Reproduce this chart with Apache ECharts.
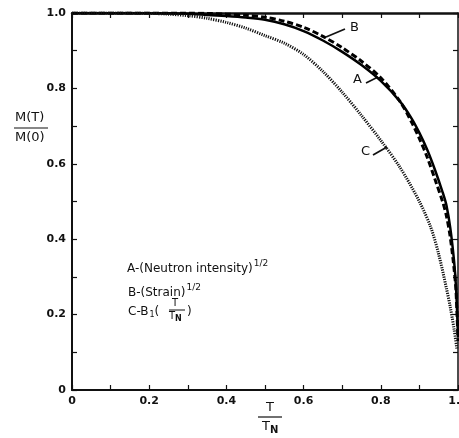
<!DOCTYPE html>
<html>
<head>
<meta charset="utf-8">
<style>
  html, body { margin: 0; padding: 0; background: #fff; }
  #chart { width: 459px; height: 438px; }
</style>
<script src="https://cdn.jsdelivr.net/npm/echarts@6/dist/echarts.min.js"></script>
</head>
<body>
<div id="chart"></div>
<script>
// T / T_N
var tA = [0, 0.1, 0.2, 0.3, 0.35, 0.4, 0.45, 0.5, 0.55, 0.6, 0.65, 0.7, 0.75, 0.8, 0.85, 0.88, 0.9, 0.92, 0.94, 0.96, 0.97, 0.98, 0.99, 0.995, 1.0];
// A - (neutron intensity)^1/2
var valA = [1, 1, 1, 0.998, 0.995, 0.992, 0.988, 0.982, 0.97, 0.952, 0.927, 0.897, 0.862, 0.82, 0.765, 0.72, 0.682, 0.638, 0.585, 0.525, 0.49, 0.43, 0.34, 0.27, 0.14];
// B - (strain)^1/2
var valB = [1, 1, 1, 1, 0.999, 0.997, 0.994, 0.989, 0.978, 0.962, 0.938, 0.908, 0.872, 0.828, 0.765, 0.71, 0.667, 0.618, 0.56, 0.5, 0.462, 0.405, 0.32, 0.26, 0.13];
// C - Brillouin B1(T/TN)
var tC = [0, 0.1, 0.2, 0.25, 0.3, 0.35, 0.4, 0.45, 0.5, 0.55, 0.6, 0.65, 0.7, 0.75, 0.8, 0.85, 0.9, 0.93, 0.95, 0.97, 0.98, 0.99, 0.997];
var valC = [1, 1, 0.999, 0.997, 0.993, 0.986, 0.975, 0.96, 0.94, 0.92, 0.89, 0.845, 0.79, 0.728, 0.662, 0.59, 0.5, 0.43, 0.36, 0.27, 0.22, 0.16, 0.11];

function pairs(xs, ys) {
  var out = [];
  for (var i = 0; i < xs.length; i++) out.push([xs[i], ys[i]]);
  return out;
}

var font = 'DejaVu Sans';

function tickLabel(v) {
  var k = Math.round(v * 10);
  if (k % 2) return '';
  if (k === 0) return '0';
  return (k / 10).toFixed(1);
}

function axisBase(pos, show, w) {
  return {
    type: 'value', position: pos, min: 0, max: 1, interval: 0.1,
    axisLine: { show: true, onZero: false, lineStyle: { color: '#111', width: w } },
    axisTick: { show: true, inside: true, length: 5, lineStyle: { color: '#111', width: 1.2 } },
    splitLine: { show: false },
    axisLabel: show ? { show: true, formatter: tickLabel, color: '#111', fontFamily: font, fontWeight: 'bold', fontSize: 11, margin: 6 } : { show: false }
  };
}

var chart = echarts.init(document.getElementById('chart'));

chart.setOption({
  backgroundColor: '#fff',
  animation: false,
  grid: { left: 72, right: 1, top: 13, bottom: 48, containLabel: false, outerBoundsMode: 'none' },
  xAxis: [axisBase('bottom', true, 2), axisBase('top', false, 2.5)],
  yAxis: [axisBase('left', true, 2), axisBase('right', false, 1.5)],
  series: [
    {
      name: 'A', type: 'line', smooth: 0.3, showSymbol: false,
      data: pairs(tA, valA),
      lineStyle: { color: '#000', width: 2.5 }
    },
    {
      name: 'B', type: 'line', smooth: 0.3, showSymbol: false,
      data: pairs(tA, valB),
      lineStyle: { color: '#000', width: 3, type: [6, 3] }
    },
    {
      name: 'C', type: 'line', smooth: 0.3, showSymbol: false,
      data: pairs(tC, valC),
      lineStyle: { color: '#111', width: 3, type: [1.2, 1.2] }
    }
  ],
  graphic: [
    // y axis title M(T)/M(0)
    { type: 'text', left: 15, top: 111, style: { text: 'M(T)', font: '13px ' + font, fill: '#111' } },
    { type: 'line', shape: { x1: 14, y1: 128, x2: 48, y2: 128 }, style: { stroke: '#111', lineWidth: 1.2 } },
    { type: 'text', left: 15, top: 131, style: { text: 'M(0)', font: '13px ' + font, fill: '#111' } },
    // x axis title T/T_N
    { type: 'text', left: 266, top: 401, style: { text: 'T', font: '13px ' + font, fill: '#111' } },
    { type: 'line', shape: { x1: 258, y1: 417, x2: 282, y2: 417 }, style: { stroke: '#111', lineWidth: 1.2 } },
    { type: 'text', left: 262, top: 420, style: {
      text: 'T{s|N}', font: '13px ' + font, fill: '#111',
      rich: { s: { fontSize: 10, fontFamily: font, fontWeight: 'bold', padding: [8, 0, 0, 0] } } } },
    // legend text
    { type: 'text', left: 127, top: 259, style: {
      text: 'A-(Neutron intensity){sup|1/2}', font: '12px ' + font, fill: '#111',
      rich: { sup: { fontSize: 9, fontFamily: font, padding: [0, 0, 10, 1] } } } },
    { type: 'text', left: 128, top: 283, style: {
      text: 'B-(Strain){sup|1/2}', font: '12px ' + font, fill: '#111',
      rich: { sup: { fontSize: 9, fontFamily: font, padding: [0, 0, 10, 1] } } } },
    { type: 'text', left: 128, top: 306, style: {
      text: 'C-B{sub|1}(', font: '12px ' + font, fill: '#111',
      rich: { sub: { fontSize: 8, fontFamily: font, padding: [6, 0, 0, 1] } } } },
    { type: 'text', left: 172, top: 298, style: { text: 'T', font: '10px ' + font, fill: '#111' } },
    { type: 'line', shape: { x1: 169, y1: 310, x2: 185, y2: 310 }, style: { stroke: '#111', lineWidth: 1 } },
    { type: 'text', left: 169, top: 311, style: {
      text: 'T{s|N}', font: '10px ' + font, fill: '#111',
      rich: { s: { fontSize: 8, fontFamily: font, fontWeight: 'bold', padding: [6, 0, 0, 0] } } } },
    { type: 'text', left: 187, top: 306, style: { text: ')', font: '12px ' + font, fill: '#111' } },
    // curve labels with pointers
    { type: 'text', left: 350, top: 21, style: { text: 'B', font: '13px ' + font, fill: '#111' } },
    { type: 'line', shape: { x1: 326, y1: 37, x2: 345, y2: 29 }, style: { stroke: '#111', lineWidth: 1.8 } },
    { type: 'text', left: 353, top: 73, style: { text: 'A', font: '13px ' + font, fill: '#111' } },
    { type: 'line', shape: { x1: 366, y1: 83, x2: 378, y2: 77 }, style: { stroke: '#111', lineWidth: 1.8 } },
    { type: 'text', left: 361, top: 145, style: { text: 'C', font: '13px ' + font, fill: '#111' } },
    { type: 'line', shape: { x1: 373, y1: 155, x2: 387, y2: 147 }, style: { stroke: '#111', lineWidth: 1.8 } }
  ]
});
</script>
</body>
</html>
